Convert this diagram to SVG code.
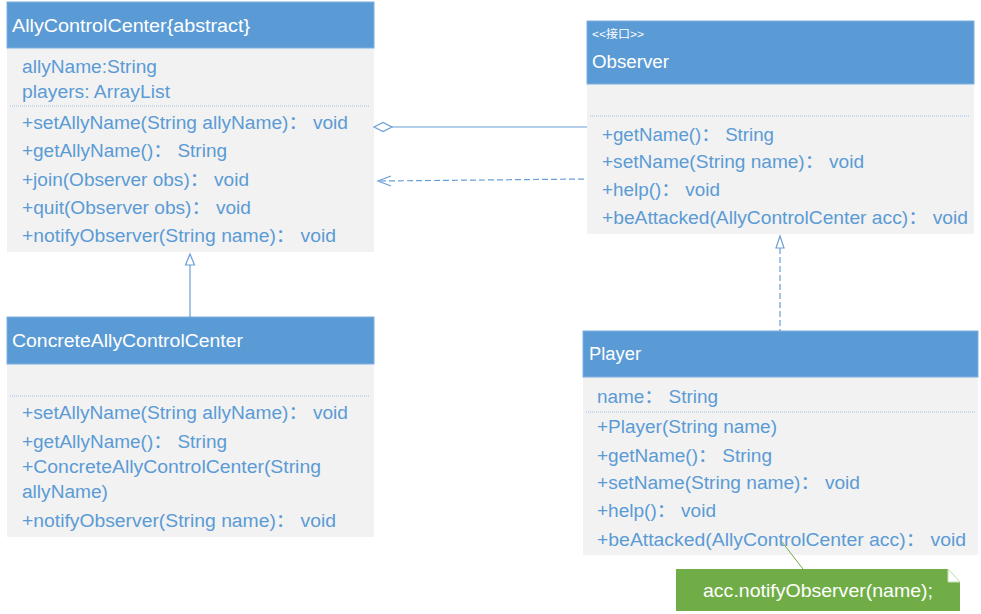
<svg xmlns="http://www.w3.org/2000/svg" width="981" height="614" viewBox="0 0 981 614">
<style>
text{font-family:"Liberation Sans","Noto Sans CJK SC",sans-serif;}
.hd{fill:#5B9BD5;stroke:#7FB0E0;stroke-width:1;}
.bd{fill:#F2F2F2;}
.ht{fill:#FFFFFF;font-size:18px;}
.st{fill:#FFFFFF;font-size:11px;}
.tx{fill:#5B9BD5;font-size:18px;}
.sep{stroke:#9DC3E6;stroke-width:1;stroke-dasharray:1,1;}
.ln{stroke:#6A9FD6;stroke-width:1.2;fill:none;}
.dash{stroke:#6A9FD6;stroke-width:1.2;fill:none;stroke-dasharray:6,3;}
</style>
<rect width="981" height="614" fill="#FFFFFF"/>
<g id="AllyControlCenter">
<rect class="bd" x="7" y="48" width="367" height="204"/>
<rect class="hd" x="7" y="2" width="367" height="46"/>
<text class="ht" x="12" y="32" textLength="238" lengthAdjust="spacingAndGlyphs">AllyControlCenter{abstract}</text>
<text class="tx" x="22" y="73" textLength="135" lengthAdjust="spacingAndGlyphs">allyName:String</text>
<text class="tx" x="22" y="98" textLength="148" lengthAdjust="spacingAndGlyphs">players: ArrayList</text>
<line class="sep" x1="10" y1="106" x2="370" y2="106"/>
<text class="tx" x="22" y="129" textLength="326" lengthAdjust="spacingAndGlyphs">+setAllyName(String allyName)： void</text>
<text class="tx" x="22" y="157" textLength="205" lengthAdjust="spacingAndGlyphs">+getAllyName()： String</text>
<text class="tx" x="22" y="186" textLength="227" lengthAdjust="spacingAndGlyphs">+join(Observer obs)： void</text>
<text class="tx" x="22" y="214" textLength="229" lengthAdjust="spacingAndGlyphs">+quit(Observer obs)： void</text>
<text class="tx" x="22" y="242" textLength="314" lengthAdjust="spacingAndGlyphs">+notifyObserver(String name)： void</text>
</g>
<g id="ConcreteAllyControlCenter">
<rect class="bd" x="7" y="364" width="367" height="173"/>
<rect class="hd" x="7" y="317" width="367" height="47"/>
<text class="ht" x="12" y="347" textLength="231" lengthAdjust="spacingAndGlyphs">ConcreteAllyControlCenter</text>
<line class="sep" x1="10" y1="396" x2="370" y2="396"/>
<text class="tx" x="22" y="419" textLength="326" lengthAdjust="spacingAndGlyphs">+setAllyName(String allyName)： void</text>
<text class="tx" x="22" y="448" textLength="205" lengthAdjust="spacingAndGlyphs">+getAllyName()： String</text>
<text class="tx" x="22" y="473" textLength="299" lengthAdjust="spacingAndGlyphs">+ConcreteAllyControlCenter(String</text>
<text class="tx" x="22" y="498" textLength="86" lengthAdjust="spacingAndGlyphs">allyName)</text>
<text class="tx" x="22" y="527" textLength="314" lengthAdjust="spacingAndGlyphs">+notifyObserver(String name)： void</text>
</g>
<g id="Observer">
<rect class="bd" x="587" y="84" width="387" height="150"/>
<rect class="hd" x="587" y="21" width="387" height="63"/>
<text class="st" x="592" y="38" textLength="52" lengthAdjust="spacingAndGlyphs">&lt;&lt;接口&gt;&gt;</text>
<text class="ht" x="592" y="68" textLength="77" lengthAdjust="spacingAndGlyphs">Observer</text>
<line class="sep" x1="590" y1="116" x2="970" y2="116"/>
<text class="tx" x="602" y="141" textLength="172" lengthAdjust="spacingAndGlyphs">+getName()： String</text>
<text class="tx" x="602" y="168" textLength="262" lengthAdjust="spacingAndGlyphs">+setName(String name)： void</text>
<text class="tx" x="602" y="196" textLength="118" lengthAdjust="spacingAndGlyphs">+help()： void</text>
<text class="tx" x="602" y="224" textLength="366" lengthAdjust="spacingAndGlyphs">+beAttacked(AllyControlCenter acc)： void</text>
</g>
<g id="Player">
<rect class="bd" x="583" y="377" width="395" height="178"/>
<rect class="hd" x="583" y="331" width="395" height="46"/>
<text class="ht" x="589" y="360" textLength="52" lengthAdjust="spacingAndGlyphs">Player</text>
<text class="tx" x="597" y="403" textLength="121" lengthAdjust="spacingAndGlyphs">name： String</text>
<line class="sep" x1="586" y1="412" x2="975" y2="412"/>
<text class="tx" x="597" y="433" textLength="180" lengthAdjust="spacingAndGlyphs">+Player(String name)</text>
<text class="tx" x="597" y="462" textLength="175" lengthAdjust="spacingAndGlyphs">+getName()： String</text>
<text class="tx" x="597" y="489" textLength="263" lengthAdjust="spacingAndGlyphs">+setName(String name)： void</text>
<text class="tx" x="597" y="517" textLength="119" lengthAdjust="spacingAndGlyphs">+help()： void</text>
<text class="tx" x="597" y="546" textLength="369" lengthAdjust="spacingAndGlyphs">+beAttacked(AllyControlCenter acc)： void</text>
</g>
<g id="Note">
<polygon points="676,569 948,569 960,582 960,611 676,611" fill="#70AD47"/>
<polygon points="948,569 960,582 948,582" fill="#FFFFFF" stroke="#C5E0B4" stroke-width="1"/>
<text x="703" y="597" fill="#FFFFFF" font-size="19" textLength="230" lengthAdjust="spacingAndGlyphs">acc.notifyObserver(name);</text>
</g>
<g id="connectors">
<line class="ln" x1="392" y1="127" x2="587" y2="127"/>
<polygon points="374,127 383,122.5 392,127 383,131.5" fill="#FFFFFF" stroke="#6A9FD6" stroke-width="1.2"/>
<line class="dash" x1="380" y1="181" x2="587" y2="179"/>
<polyline class="ln" points="391,176 378,181 391,186"/>
<line class="ln" x1="190" y1="265" x2="190" y2="317"/>
<polygon points="190,254 185.5,265 194.5,265" fill="#FFFFFF" stroke="#6A9FD6" stroke-width="1.2"/>
<line class="dash" x1="780" y1="248" x2="780" y2="331"/>
<polygon points="780,236 776,248 784,248" fill="#FFFFFF" stroke="#6A9FD6" stroke-width="1.2"/>
<line x1="782" y1="542" x2="803" y2="569" stroke="#70AD47" stroke-width="1"/>
</g>
</svg>
